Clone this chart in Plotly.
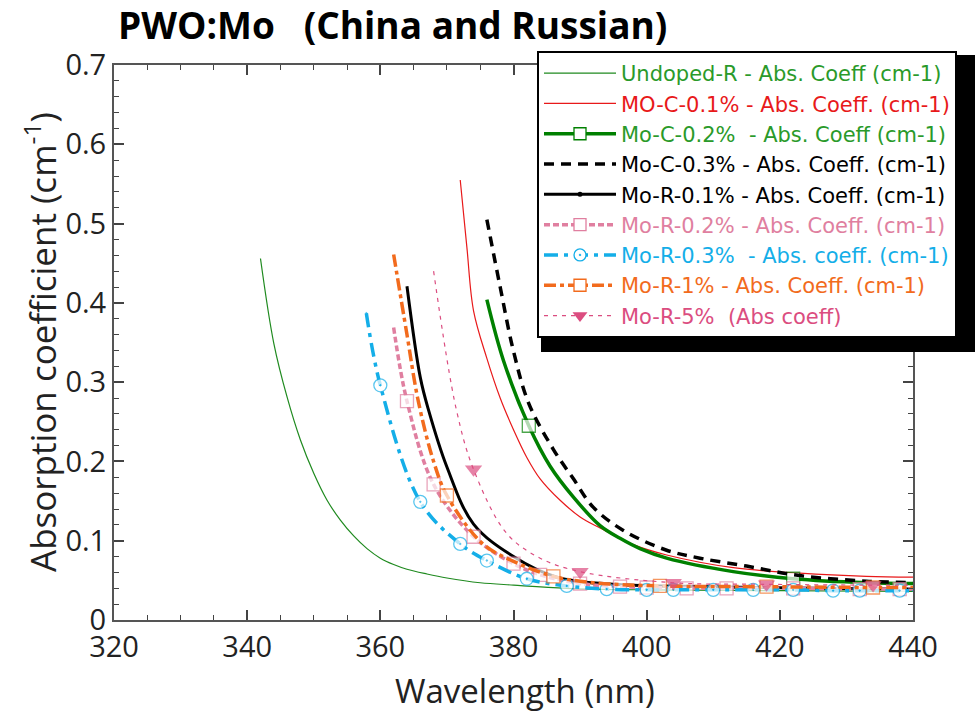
import plotly.graph_objects as go

# ---------------- data ----------------
undoped_x = [342, 344, 346, 348, 350, 352, 354, 356, 358, 360, 362, 364, 367, 370, 375, 380, 388, 400, 420, 440]
undoped_y = [0.456, 0.349, 0.281, 0.227, 0.185, 0.151, 0.126, 0.106, 0.090, 0.078, 0.070, 0.064, 0.058, 0.053, 0.047, 0.044, 0.040, 0.038, 0.037, 0.036]

moc01_x = [372, 373, 374, 376, 378, 380, 382, 384, 387, 390, 393, 398, 403, 413, 423, 433, 440]
moc01_y = [0.555, 0.470, 0.390, 0.330, 0.280, 0.240, 0.205, 0.178, 0.151, 0.130, 0.116, 0.095, 0.082, 0.066, 0.059, 0.055, 0.054]

moc02_x = [376, 378.5, 382.3, 385.5, 389, 393, 396, 399, 403, 413, 422, 433, 440]
moc02_y = [0.404, 0.327, 0.245, 0.194, 0.155, 0.119, 0.103, 0.090, 0.078, 0.061, 0.052, 0.047, 0.046]
moc02_mk = [0, 0, 1, 0, 0, 0, 0, 0, 0, 0, 1, 0, 0]

moc03_x = [376, 378, 380, 382.3, 386, 389, 392, 396.5, 403, 408, 415, 423, 433, 440]
moc03_y = [0.505, 0.420, 0.339, 0.273, 0.215, 0.178, 0.142, 0.113, 0.088, 0.078, 0.068, 0.056, 0.049, 0.047]

mor01_x = [364, 366, 367.2, 370, 374, 380, 386.5, 395, 410, 425, 440]
mor01_y = [0.421, 0.306, 0.266, 0.193, 0.121, 0.080, 0.054, 0.045, 0.042, 0.040, 0.039]

mor02_x = [362, 364, 368, 374, 380, 384, 390, 396, 400, 406, 412, 422, 432, 438, 440]
mor02_y = [0.369, 0.276, 0.171, 0.105, 0.071, 0.057, 0.046, 0.042, 0.041, 0.040, 0.040, 0.040, 0.039, 0.039, 0.039]
mor02_mk = [0, 1, 1, 1, 1, 1, 1, 1, 1, 1, 1, 1, 1, 1, 0]

mor03_x = [357.9, 360, 366, 372, 376, 382, 388, 394, 400, 404, 410, 416, 422, 428, 432, 438, 440]
mor03_y = [0.387, 0.296, 0.149, 0.096, 0.075, 0.052, 0.043, 0.039, 0.038, 0.038, 0.038, 0.038, 0.038, 0.037, 0.037, 0.037, 0.037]
mor03_mk = [0, 1, 1, 1, 1, 1, 1, 1, 1, 1, 1, 1, 1, 1, 1, 1, 0]

mor1_x = [362, 364, 365.7, 368, 370, 375.4, 380, 386, 392, 402, 418, 434, 440]
mor1_y = [0.461, 0.360, 0.276, 0.200, 0.157, 0.096, 0.074, 0.055, 0.047, 0.043, 0.042, 0.041, 0.041]
mor1_mk = [0, 0, 0, 0, 1, 0, 0, 1, 0, 1, 1, 1, 0]

mor5_x = [368, 371.4, 374, 379, 384, 390, 404, 418, 434, 440]
mor5_y = [0.440, 0.266, 0.190, 0.109, 0.078, 0.061, 0.047, 0.045, 0.044, 0.044]
mor5_mk = [0, 0, 1, 0, 0, 1, 1, 1, 1, 0]

names = [
    "Undoped-R - Abs. Coeff (cm-1)",
    "MO-C-0.1% - Abs. Coeff. (cm-1)",
    "Mo-C-0.2%  - Abs. Coeff (cm-1)",
    "Mo-C-0.3% - Abs. Coeff. (cm-1)",
    "Mo-R-0.1% - Abs. Coeff. (cm-1)",
    "Mo-R-0.2% - Abs. Coeff. (cm-1)",
    "Mo-R-0.3%  - Abs. coeff. (cm-1)",
    "Mo-R-1% - Abs. Coeff. (cm-1)",
    "Mo-R-5%  (Abs coeff)",
]
text_colors = ["#2a9a2a", "#e8191a", "#2a9a2a", "#000000", "#000000",
               "#e07fa0", "#14aee8", "#f26b1d", "#db4d80"]

FONT = "Open Sans"
LEG_FONT = "DejaVu Sans"

def sizes(flags, s):
    return [s if f else 0 for f in flags]

curves = []
legend_items = []

def add(x, y, i, color, width, dash="solid", symbol=None, msize=None, mfill="white", mline=1.3, lsize=12):
    label = f"<span style='color:{text_colors[i]}'>{names[i]}</span>"
    line = dict(color=color, width=width, dash=dash, shape="spline", smoothing=1.0)
    kw = dict(x=x, y=y, line=line, showlegend=False, hoverinfo="x+y")
    lg = dict(x=[None], y=[None], name=label, line=dict(color=color, width=width, dash=dash))
    if symbol is None:
        kw["mode"] = "lines"
        lg["mode"] = "lines"
    else:
        kw["mode"] = "lines+markers"
        kw["marker"] = dict(symbol=symbol, size=msize, color=mfill,
                            line=dict(color=color, width=mline))
        lg["mode"] = "lines+markers"
        lg["marker"] = dict(symbol=symbol, size=lsize, color=mfill,
                            line=dict(color=color, width=mline))
    curves.append(go.Scatter(**kw))
    legend_items.append(go.Scatter(**lg))

add(undoped_x, undoped_y, 0, "#1f8a1f", 1.2)
add(moc01_x, moc01_y, 1, "#e8191a", 1.2)
add(moc02_x, moc02_y, 2, "#008000", 3.5, symbol="square", msize=sizes(moc02_mk, 13))
add(moc03_x, moc03_y, 3, "#000000", 3.5, dash="10px,7px")
add(mor01_x, mor01_y, 4, "#000000", 3, symbol="circle", msize=[0] * len(mor01_x),
    mfill="black", mline=0, lsize=5)
add(mor02_x, mor02_y, 5, "#e07fa0", 3.5, dash="6px,3px", symbol="square", msize=sizes(mor02_mk, 13))
add(mor03_x, mor03_y, 6, "#14aee8", 3.5, dash="14px,6px,4px,6px", symbol="circle-dot", msize=sizes(mor03_mk, 13))
add(mor1_x, mor1_y, 7, "#f26b1d", 3.5, dash="12px,4px,4px,4px", symbol="square", msize=sizes(mor1_mk, 13))
add(mor5_x, mor5_y, 8, "#db4d80", 1.2, dash="4px,5px", symbol="triangle-down", msize=sizes(mor5_mk, 15),
    mfill="#db4d80", mline=0, lsize=13)

fig = go.Figure(data=curves + legend_items)

W, H = 979, 713
L, R, T, B = 114, 66, 65, 93
pw, ph = W - L - R, H - T - B

def px(x):
    return (x - L) / pw

def py(y):
    return (H - B - y) / ph

axis_common = dict(showline=True, linecolor="#555555", linewidth=2, mirror="ticks",
                   ticks="inside", tickcolor="#444444", tickwidth=1.5, ticklen=10,
                   showgrid=False, zeroline=False)

fig.update_layout(
    width=W, height=H,
    margin=dict(l=L, r=R, t=T, b=B),
    paper_bgcolor="white", plot_bgcolor="white",
    font=dict(family=FONT, color="#222222"),
    title=dict(text="<b>PWO:Mo   (China and Russian)</b>", x=px(118), xanchor="left",
               xref="paper", y=1 - 26 / H, yanchor="middle", yref="container",
               font=dict(family=FONT, size=37, color="#000000")),
    xaxis=dict(range=[320, 440], dtick=20, tick0=320,
               minor=dict(dtick=5, ticks="inside", ticklen=5, tickcolor="#444444", tickwidth=1),
               tickfont=dict(family=FONT, size=29, color="#222222"),
               **axis_common),
    yaxis=dict(range=[0, 0.7], dtick=0.1, tick0=0,
               minor=dict(dtick=0.02, ticks="inside", ticklen=5, tickcolor="#444444", tickwidth=1),
               tickfont=dict(family=FONT, size=29, color="#222222"),
               **axis_common),
    legend=dict(x=px(537), y=py(51), xanchor="left", yanchor="top",
                bgcolor="white", bordercolor="black", borderwidth=2,
                font=dict(family=LEG_FONT, size=21), itemwidth=72,
                traceorder="normal"),
    showlegend=True,
    annotations=[
        dict(text="Wavelength (nm)", xref="paper", yref="paper", x=px(525), y=py(690),
             xanchor="center", yanchor="middle", showarrow=False,
             font=dict(family=FONT, size=33, color="#222222")),
        dict(text="Absorption coefficient (cm<sup>-1</sup>)", xref="paper", yref="paper",
             x=px(40), y=py(342), xanchor="center", yanchor="middle", textangle=-90,
             showarrow=False, font=dict(family=FONT, size=35, color="#222222")),
    ],
    shapes=[dict(type="rect", xref="paper", yref="paper",
                 x0=px(541), x1=px(975), y0=py(352), y1=py(55),
                 fillcolor="black", line=dict(width=0), layer="above")],
)

fig.write_html("out.html")
